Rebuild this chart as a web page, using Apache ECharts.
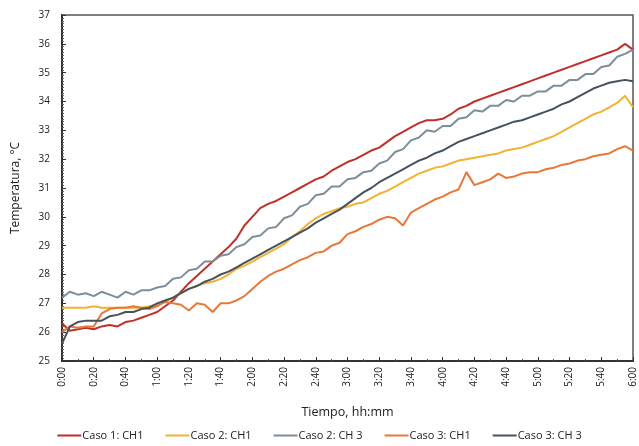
<!DOCTYPE html>
<html><head><meta charset="utf-8">
<script src="https://cdn.jsdelivr.net/npm/echarts@6/dist/echarts.min.js"></script>
<style>html,body{margin:0;padding:0;background:#fff}#c{width:639px;height:446px}</style>
</head><body><div id="c"></div>
<script>
// time in minutes, every 5 min from 0:00 to 6:00
const minutes = [0,5,10,15,20,25,30,35,40,45,50,55,60,65,70,75,80,85,90,95,100,105,110,115,120,125,130,135,140,145,150,155,160,165,170,175,180,185,190,195,200,205,210,215,220,225,230,235,240,245,250,255,260,265,270,275,280,285,290,295,300,305,310,315,320,325,330,335,340,345,350,355,360];
const seriesNames = ['Caso 1: CH1','Caso 2: CH1','Caso 2: CH 3','Caso 3: CH1','Caso 3: CH 3'];
const caso1CH1 = [26.3,26.05,26.1,26.15,26.1,26.2,26.25,26.2,26.35,26.4,26.5,26.6,26.7,26.9,27.1,27.4,27.7,27.95,28.2,28.45,28.7,28.95,29.25,29.7,30.0,30.3,30.45,30.55,30.7,30.85,31.0,31.15,31.3,31.4,31.6,31.75,31.9,32.0,32.15,32.3,32.4,32.6,32.8,32.95,33.1,33.25,33.35,33.35,33.4,33.55,33.75,33.85,34.0,34.1,34.2,34.3,34.4,34.5,34.6,34.7,34.8,34.9,35.0,35.1,35.2,35.3,35.4,35.5,35.6,35.7,35.8,36.0,35.8];
const caso2CH1 = [26.85,26.85,26.85,26.85,26.9,26.85,26.85,26.85,26.85,26.85,26.85,26.9,26.95,27.05,27.2,27.35,27.5,27.6,27.7,27.75,27.85,28.0,28.2,28.3,28.45,28.6,28.75,28.9,29.05,29.3,29.5,29.75,29.95,30.1,30.2,30.3,30.35,30.45,30.5,30.65,30.8,30.9,31.05,31.2,31.35,31.5,31.6,31.7,31.75,31.85,31.95,32.0,32.05,32.1,32.15,32.2,32.3,32.35,32.4,32.5,32.6,32.7,32.8,32.95,33.1,33.25,33.4,33.55,33.65,33.8,33.95,34.2,33.8];
const caso2CH3 = [27.2,27.4,27.3,27.35,27.25,27.4,27.3,27.2,27.4,27.3,27.45,27.45,27.55,27.6,27.85,27.9,28.15,28.2,28.45,28.45,28.65,28.7,28.95,29.05,29.3,29.35,29.6,29.65,29.95,30.05,30.35,30.45,30.75,30.8,31.05,31.05,31.3,31.35,31.55,31.6,31.85,31.95,32.25,32.35,32.65,32.75,33.0,32.95,33.15,33.15,33.4,33.45,33.7,33.65,33.85,33.85,34.05,34.0,34.2,34.2,34.35,34.35,34.55,34.55,34.75,34.75,34.95,34.95,35.2,35.25,35.55,35.65,35.8];
const caso3CH1 = [26.0,26.2,26.15,26.2,26.2,26.65,26.8,26.85,26.85,26.9,26.85,26.8,26.9,27.05,27.0,26.95,26.75,27.0,26.95,26.7,27.0,27.0,27.1,27.25,27.5,27.75,27.95,28.1,28.2,28.35,28.5,28.6,28.75,28.8,29.0,29.1,29.4,29.5,29.65,29.75,29.9,30.0,29.95,29.7,30.15,30.3,30.45,30.6,30.7,30.85,30.95,31.55,31.1,31.2,31.3,31.5,31.35,31.4,31.5,31.55,31.55,31.65,31.7,31.8,31.85,31.95,32.0,32.1,32.15,32.2,32.35,32.45,32.3];
const caso3CH3 = [25.6,26.2,26.35,26.4,26.4,26.4,26.55,26.6,26.7,26.7,26.8,26.85,27.0,27.1,27.2,27.35,27.5,27.6,27.75,27.85,28.0,28.1,28.25,28.4,28.55,28.7,28.85,29.0,29.15,29.3,29.45,29.6,29.8,29.95,30.1,30.25,30.45,30.65,30.85,31.0,31.2,31.35,31.5,31.65,31.8,31.95,32.05,32.2,32.3,32.45,32.6,32.7,32.8,32.9,33.0,33.1,33.2,33.3,33.35,33.45,33.55,33.65,33.75,33.9,34.0,34.15,34.3,34.45,34.55,34.65,34.7,34.75,34.7];
const colors = ['#C0302A','#F2B233','#7E8E98','#E8773A','#46535E'];

const allData = [caso1CH1, caso2CH1, caso2CH3, caso3CH1, caso3CH3];
const FONT = 'Open Sans';
const chart = echarts.init(document.getElementById('c'), null, {renderer:'canvas'});
chart.setOption({
  animation:false,
  backgroundColor:'#fff',
  grid:{left:62,right:6,top:15,bottom:85,show:true,borderColor:'#555',borderWidth:1.5,backgroundColor:'transparent'},
  xAxis:{
    type:'value',min:0,max:360,interval:20,
    name:'Tiempo, hh:mm',nameLocation:'middle',nameGap:45,
    nameTextStyle:{fontFamily:FONT,fontSize:12.5,color:'#222'},
    axisLine:{lineStyle:{color:'#333',width:2}},
    axisTick:{inside:true,length:4,lineStyle:{color:'#333'}},
    minorTick:{show:true,splitNumber:2,length:2,lineStyle:{color:'#555'}},
    splitLine:{show:false},
    axisLabel:{rotate:90,fontFamily:FONT,fontSize:10,color:'#222',margin:6,
      formatter:v=>Math.floor(v/60)+':'+String(v%60).padStart(2,'0')}
  },
  yAxis:{
    type:'value',min:25,max:37,interval:1,
    name:'Temperatura, °C',nameLocation:'middle',nameGap:40,
    nameTextStyle:{fontFamily:FONT,fontSize:12,color:'#222'},
    axisLine:{show:true,lineStyle:{color:'#333',width:2}},
    axisTick:{show:true,inside:true,length:4,lineStyle:{color:'#333'}},
    minorTick:{show:true,splitNumber:10,length:2,lineStyle:{color:'#666'}},
    splitLine:{show:false},
    axisLabel:{fontFamily:FONT,fontSize:10,color:'#222',margin:12}
  },
  legend:{
    bottom:0,left:'center',itemGap:22,itemWidth:24,itemHeight:2,icon:'rect',
    textStyle:{fontFamily:FONT,fontSize:11,color:'#222',padding:[0,0,0,-4]},
    data:seriesNames
  },
  series: seriesNames.map((n,i)=>({
    name:n,type:'line',showSymbol:false,symbol:'none',
    lineStyle:{width:2,color:colors[i]},itemStyle:{color:colors[i]},
    data:minutes.map((m,j)=>[m,allData[i][j]])
  }))
});
</script></body></html>
